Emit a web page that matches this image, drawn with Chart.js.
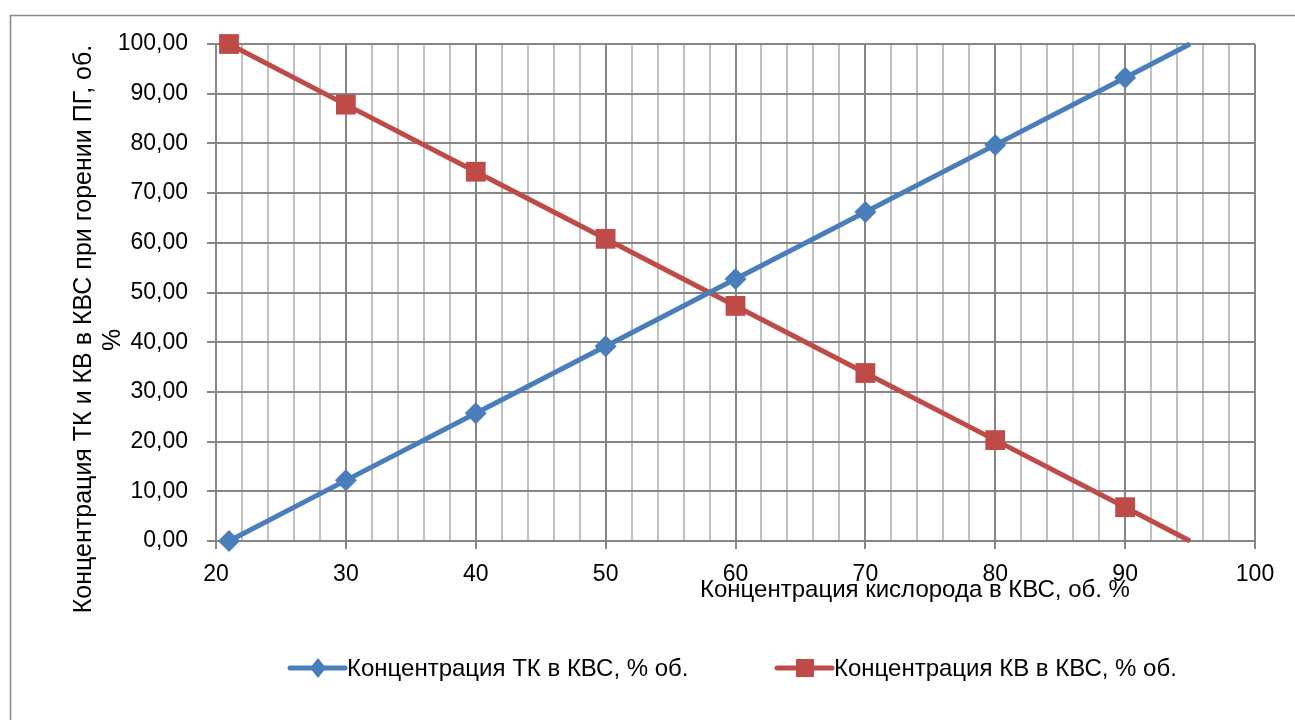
<!DOCTYPE html>
<html>
<head>
<meta charset="utf-8">
<script src="https://cdn.jsdelivr.net/npm/chart.js@4"></script>
<style>
  html, body { margin: 0; padding: 0; background: #fff; }
  #wrap { width: 1295px; height: 720px; }
</style>
</head>
<body>
<div id="wrap"><canvas id="chart" width="1295" height="720"></canvas></div>
<script>
// x positions - oxygen concentration, % vol
const oxygen = [21, 30, 40, 50, 60, 70, 80, 90, 95];
// series
const tkValues = [0, 12.2, 25.7, 39.2, 52.7, 66.2, 79.7, 93.2, 100];
const kvValues = [100, 87.8, 74.3, 60.8, 47.3, 33.8, 20.3, 6.8, 0];
const xTicks = [20, 30, 40, 50, 60, 70, 80, 90, 100];
const yTicks = [0, 10, 20, 30, 40, 50, 60, 70, 80, 90, 100];

const seriesNames = ['Концентрация ТК в КВС, % об.', 'Концентрация КВ в КВС, % об.'];
const xTitle = 'Концентрация кислорода в КВС, об. %';
const yTitle = ['Концентрация ТК и КВ в КВС при горении ПГ, об.', '%'];

const BLUE = '#4a7ebb';
const RED = '#be4b48';
const FONT = '"Liberation Sans", Arial, sans-serif';

// no marker on the last (extrapolated) point
const radii = oxygen.map((x, i) => i === oxygen.length - 1 ? 0 : 1);

function pts(vals) {
    return oxygen.map((x, i) => ({ x: x, y: vals[i] }));
}

// frame + titles + legend drawn by hand (Excel style)
const decor = {
    id: 'decor',
    beforeDraw(chart) {
        const c = chart.ctx;
        c.save();
        c.strokeStyle = '#868686';
        c.lineWidth = 1.5;
        c.strokeRect(10.5, 15.5, 1400, 800);
        c.restore();
    },
    afterDraw(chart) {
        const c = chart.ctx;
        c.save();
        c.fillStyle = '#000';
        c.font = '24px ' + FONT;
        c.textAlign = 'center';
        c.textBaseline = 'middle';
        // x axis title
        c.fillText(xTitle, 915, 590);
        // y axis title (two lines, rotated)
        c.font = '25px ' + FONT;
        c.save();
        c.translate(84, 329);
        c.rotate(-Math.PI / 2);
        c.fillText(yTitle[0], 0, 0);
        c.restore();
        c.save();
        c.translate(113, 340);
        c.rotate(-Math.PI / 2);
        c.fillText(yTitle[1], 0, 0);
        c.restore();

        // legend
        c.font = '24px ' + FONT;
        const items = [
            { x: 290, color: BLUE, style: 'diamond' },
            { x: 777, color: RED, style: 'square' }
        ];
        const ly = 668;
        items.forEach((it, i) => {
            c.strokeStyle = it.color;
            c.fillStyle = it.color;
            c.lineWidth = 5;
            c.lineCap = 'round';
            c.beginPath();
            c.moveTo(it.x, ly);
            c.lineTo(it.x + 55, ly);
            c.stroke();
            const mx = it.x + 28;
            c.beginPath();
            if (it.style === 'diamond') {
                c.moveTo(mx, ly - 10);
                c.lineTo(mx + 8, ly);
                c.lineTo(mx, ly + 10);
                c.lineTo(mx - 8, ly);
                c.closePath();
            } else {
                c.rect(mx - 9, ly - 9, 18, 18);
            }
            c.fill();
            c.fillStyle = '#000';
            c.textAlign = 'left';
            c.fillText(seriesNames[i], it.x + 57, ly + 1);
        });
        c.restore();
    }
};

new Chart(document.getElementById('chart'), {
    type: 'line',
    data: {
        datasets: [
            {
                label: seriesNames[0],
                data: pts(tkValues),
                borderColor: BLUE,
                backgroundColor: BLUE,
                borderWidth: 5,
                pointStyle: 'rectRot',
                pointRadius: radii.map(r => r * 11),
                pointBorderWidth: 0,
                tension: 0,
                clip: false
            },
            {
                label: seriesNames[1],
                data: pts(kvValues),
                borderColor: RED,
                backgroundColor: RED,
                borderWidth: 5,
                pointStyle: 'rect',
                pointRadius: radii.map(r => r * 14),
                pointBorderWidth: 0,
                tension: 0,
                clip: false
            }
        ]
    },
    options: {
        responsive: false,
        animation: false,
        layout: { padding: { left: 0, top: 44, right: 40, bottom: 0 } },
        plugins: {
            legend: { display: false },
            tooltip: { enabled: false }
        },
        scales: {
            x: {
                type: 'linear',
                min: 20,
                max: 100,
                afterFit(scale) { scale.height = 179; },
                afterBuildTicks(scale) {
                    const t = [];
                    for (let v = 20; v <= 100; v += 2) t.push({ value: v });
                    scale.ticks = t;
                },
                grid: {
                    color: ctx => (ctx.tick && ctx.tick.value % 10 === 0) ? '#868686' : '#c0c0c0',
                    lineWidth: 2,
                    tickColor: ctx => (ctx.tick && ctx.tick.value % 10 === 0) ? '#868686' : 'rgba(0,0,0,0)',
                    tickLength: 8
                },
                border: { color: '#868686', width: 2 },
                ticks: {
                    autoSkip: false,
                    maxRotation: 0,
                    padding: 12,
                    color: '#000',
                    font: { family: FONT, size: 23 },
                    callback: v => xTicks.includes(v) ? String(v) : ''
                }
            },
            y: {
                min: 0,
                max: 100,
                afterFit(scale) { scale.width = 216; },
                afterBuildTicks(scale) {
                    scale.ticks = yTicks.map(v => ({ value: v }));
                },
                grid: { color: '#868686', lineWidth: 2, tickLength: 9 },
                border: { color: '#868686', width: 2 },
                ticks: {
                    padding: 19,
                    color: '#000',
                    font: { family: FONT, size: 23 },
                    callback: v => v.toFixed(2).replace('.', ',')
                }
            }
        }
    },
    plugins: [decor]
});
</script>
</body>
</html>
